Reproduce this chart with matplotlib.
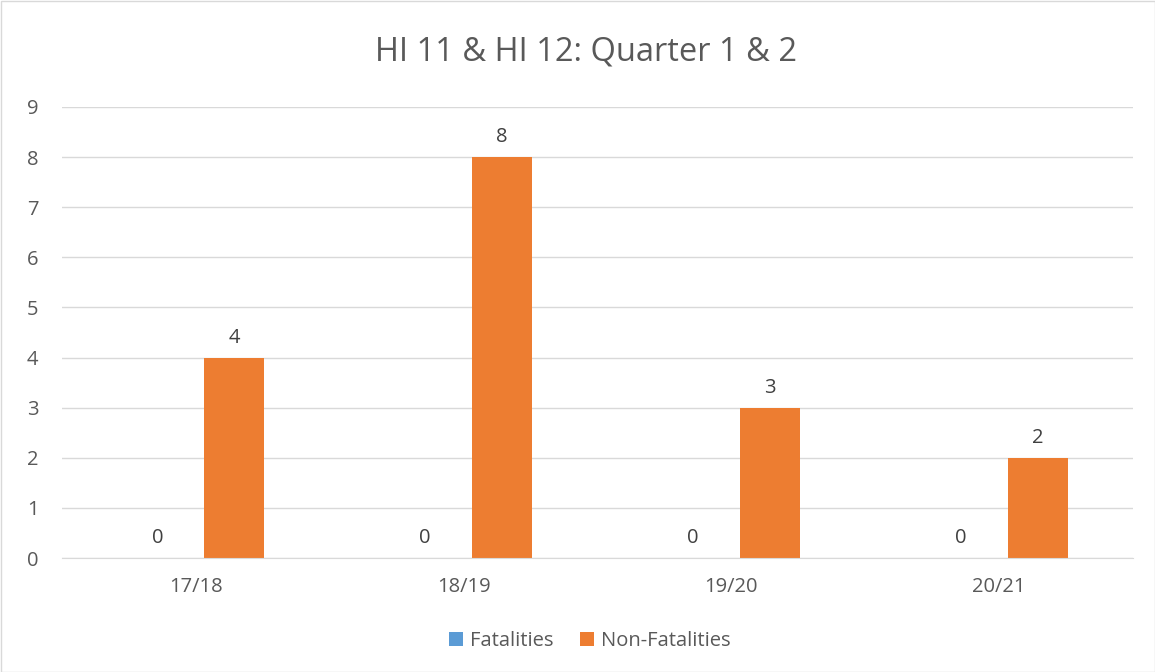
import matplotlib
matplotlib.use('Agg')
import matplotlib.pyplot as plt
import numpy as np
from matplotlib.patches import Rectangle

# ─── Data ───
seasons = ["17/18", "18/19", "19/20", "20/21"]
fatalities = [0, 0, 0, 0]
non_fatalities = [4, 8, 3, 2]
y_ticks = list(range(0, 10))

BLUE = "#5B9BD5"
ORANGE = "#ED7D31"
TEXT = "#595959"
GRID = "#D9D9D9"

plt.rcParams['font.family'] = ['Open Sans', 'DejaVu Sans']

fig = plt.figure(figsize=(11.55, 6.72), dpi=100)
ax = fig.add_axes([62 / 1155, 114 / 672, 1071 / 1155, 451 / 672])

x = np.arange(len(seasons))
width = 0.224
offset = 0.144
bars1 = ax.bar(x - offset, fatalities, width, color=BLUE, label="Fatalities")
bars2 = ax.bar(x + offset, non_fatalities, width, color=ORANGE, label="Non-Fatalities")

for bars in (bars1, bars2):
    for bar in bars:
        ax.text(bar.get_x() + bar.get_width() / 2, bar.get_height() + 0.2,
                f"{bar.get_height():.0f}", ha="center", va="bottom",
                fontsize=14.5, color="#404040")

ax.set_xlim(-0.5, len(seasons) - 0.5)
ax.set_ylim(0, 9)
ax.set_yticks(y_ticks)
ax.set_xticks(x)
ax.set_xticklabels(seasons)
ax.tick_params(axis="both", length=0, labelsize=14.5, labelcolor=TEXT)
ax.tick_params(axis="y", pad=17)
ax.tick_params(axis="x", pad=14)
ax.grid(axis="y", color=GRID, linewidth=1)
ax.set_axisbelow(True)
for side in ("top", "right", "left"):
    ax.spines[side].set_visible(False)
ax.spines["bottom"].set_color(GRID)

fig.text(586 / 1155, 1 - 52 / 672, "HI 11 & HI 12: Quarter 1 & 2", ha="center", va="center",
         fontsize=23.5, color=TEXT)

fig.legend(handles=[bars1, bars2], loc="center", bbox_to_anchor=(590 / 1155, 1 - 641 / 672),
           ncol=2, frameon=False, fontsize=14.5, handlelength=0.7, handleheight=0.7,
           columnspacing=1.3, handletextpad=0.35, labelcolor=TEXT)

fig.patches.append(Rectangle((0.5 / 1155, 0.5 / 672), 1 - 1 / 1155, 1 - 1 / 672,
                             transform=fig.transFigure, fill=False,
                             edgecolor=GRID, linewidth=1))

fig.savefig("out.png", dpi=100)
